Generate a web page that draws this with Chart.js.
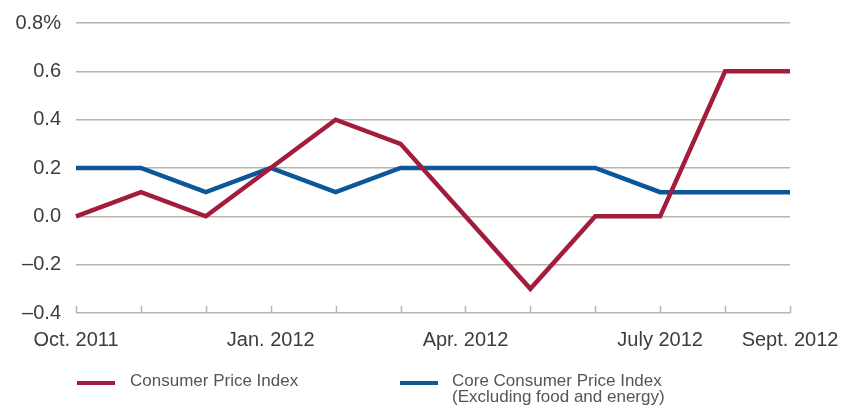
<!DOCTYPE html>
<html>
<head>
<meta charset="utf-8">
<script src="https://cdn.jsdelivr.net/npm/chart.js@4.4.0/dist/chart.umd.min.js"></script>
<style>
  html, body { margin: 0; padding: 0; background: #fff; }
  #wrap { position: relative; width: 841px; height: 405px; }
  #legend { position: absolute; left: 0; top: 0; width: 841px; height: 405px; pointer-events: none;
            font-family: "Liberation Sans", Arial, sans-serif; font-size: 17px; color: #555; }
  .item { position: absolute; top: 373px; }
  .swatch { position: absolute; width: 38px; height: 4px; top: 8px; }
  .txt { position: absolute; line-height: 15.5px; white-space: nowrap; }
</style>
</head>
<body>
<div id="wrap">
  <canvas id="chart" width="841" height="405"></canvas>
  <div id="legend"></div>
</div>
<script>
const months = ['Oct. 2011', '', '', 'Jan. 2012', '', '', 'Apr. 2012', '', '', 'July 2012', '', 'Sept. 2012'];
const cpi = [0.0, 0.1, 0.0, 0.2, 0.4, 0.3, 0.0, -0.3, 0.0, 0.0, 0.6, 0.6];
const coreCpi = [0.2, 0.2, 0.1, 0.2, 0.1, 0.2, 0.2, 0.2, 0.2, 0.1, 0.1, 0.1];
const yTickLabels = ['\u20130.4', '\u20130.2', '0.0', '0.2', '0.4', '0.6', '0.8%'];
const seriesNames = [['Consumer Price Index'], ['Core Consumer Price Index', '(Excluding food and energy)']];

const gridColor = '#bab4aa';
const RED = '#a31c3b';
const BLUE = '#0b5799';
const FONT = '"Liberation Sans", Arial, sans-serif';

// short upward tick marks on the category axis
const upTicks = {
  id: 'upTicks',
  beforeDatasetsDraw(chart) {
    const x = chart.scales.x, ctx = chart.ctx, bottom = chart.chartArea.bottom;
    ctx.save();
    ctx.strokeStyle = gridColor;
    ctx.lineWidth = 1.5;
    x.ticks.forEach((t, i) => {
      const px = Math.round(x.getPixelForTick(i)) + 0.5;
      ctx.beginPath();
      ctx.moveTo(px, bottom - 7);
      ctx.lineTo(px, bottom);
      ctx.stroke();
    });
    ctx.restore();
  }
};

const ctx = document.getElementById('chart').getContext('2d');
const chart = new Chart(ctx, {
  type: 'line',
  data: {
    labels: months,
    datasets: [
      { label: seriesNames[0].join(' '), data: cpi, borderColor: RED, backgroundColor: RED,
        borderWidth: 4.5, pointRadius: 0, tension: 0, borderJoinStyle: 'miter', borderCapStyle: 'butt' },
      { label: seriesNames[1].join(' '), data: coreCpi, borderColor: BLUE, backgroundColor: BLUE,
        borderWidth: 4.5, pointRadius: 0, tension: 0, borderJoinStyle: 'miter', borderCapStyle: 'butt' }
    ]
  },
  options: {
    responsive: false,
    animation: false,
    layout: { padding: { left: 0, right: 51, top: 23, bottom: 0 } },
    plugins: { legend: { display: false }, tooltip: { enabled: false } },
    scales: {
      x: {
        offset: false,
        grid: { display: false, drawTicks: false },
        border: { display: false },
        ticks: {
          autoSkip: false, maxRotation: 0, padding: 15,
          color: '#3c3c3c', font: { family: FONT, size: 20 }
        },
        afterFit(s) { s.height = 92; s.paddingLeft = 0; s.paddingRight = 0; }
      },
      y: {
        min: -0.4, max: 0.8,
        grid: { color: gridColor, lineWidth: 1.5, drawTicks: false },
        border: { display: false },
        ticks: {
          stepSize: 0.2, padding: 15,
          color: '#3c3c3c', font: { family: FONT, size: 20 },
          callback: (v, i) => yTickLabels[i]
        },
        afterFit(s) { s.width = 76; s.paddingTop = 0; s.paddingBottom = 0; }
      }
    }
  },
  plugins: [upTicks]
});

// html legend, built from the datasets
const legendEl = document.getElementById('legend');
const legendX = [[77, 130], [400, 452]];
chart.data.datasets.forEach((ds, i) => {
  const item = document.createElement('div');
  item.className = 'item';
  item.innerHTML =
    '<div class="swatch" style="left:' + legendX[i][0] + 'px;background:' + ds.borderColor + '"></div>' +
    '<div class="txt" style="left:' + legendX[i][1] + 'px">' + seriesNames[i].join('<br>') + '</div>';
  legendEl.appendChild(item);
});
</script>
</body>
</html>
